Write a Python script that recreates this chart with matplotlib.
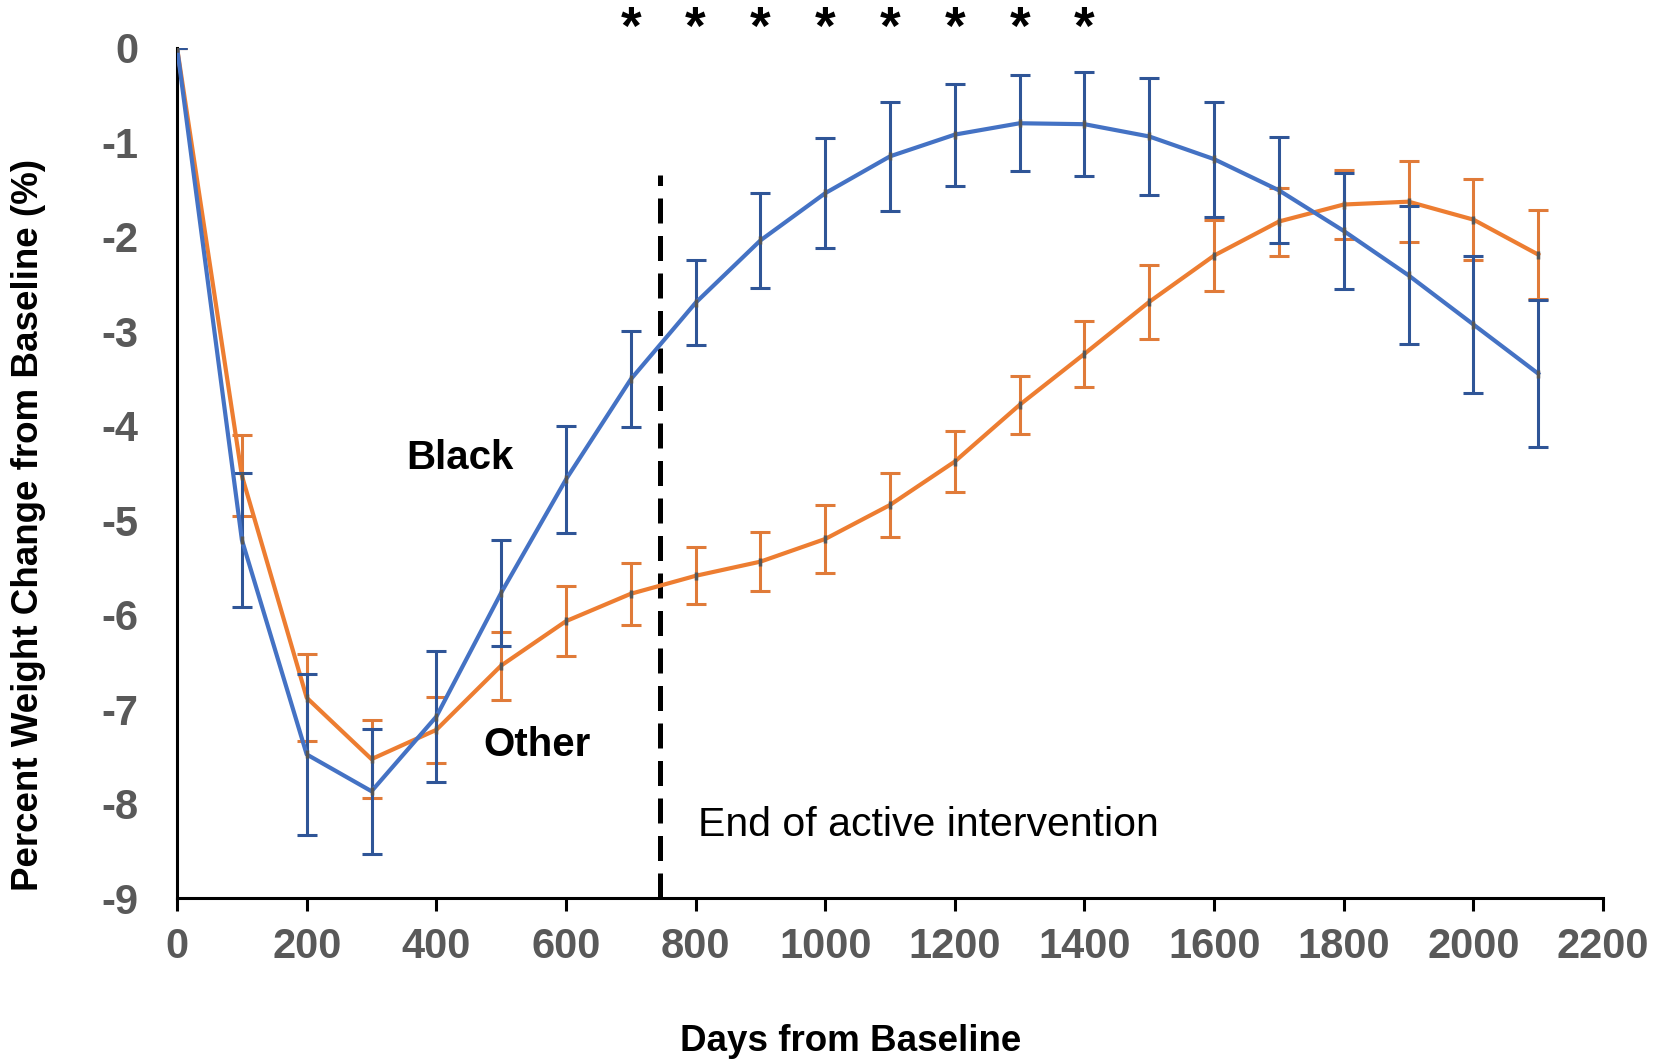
import matplotlib
matplotlib.use("Agg")
import matplotlib.pyplot as plt
import numpy as np

plt.rcParams['font.family'] = ['Liberation Sans', 'DejaVu Sans']
plt.rcParams['lines.scale_dashes'] = False
plt.rcParams['axes.unicode_minus'] = False

days = [0, 100, 200, 300, 400, 500, 600, 700, 800, 900, 1000, 1100, 1200, 1300,
        1400, 1500, 1600, 1700, 1800, 1900, 2000, 2100]

black_mean = [0, -5.21, -7.48, -7.87, -7.08, -5.77, -4.57, -3.51, -2.70, -2.04, -1.54,
              -1.15, -0.92, -0.80, -0.81, -0.94, -1.18, -1.51, -1.94, -2.41, -2.93, -3.45]
black_err = [0, 0.71, 0.85, 0.66, 0.69, 0.56, 0.57, 0.51, 0.45, 0.50, 0.58,
             0.58, 0.54, 0.51, 0.55, 0.62, 0.61, 0.56, 0.61, 0.73, 0.73, 0.78]

other_mean = [0, -4.53, -6.88, -7.53, -7.22, -6.54, -6.07, -5.78, -5.59, -5.44, -5.20,
              -4.84, -4.38, -3.78, -3.24, -2.69, -2.20, -1.84, -1.66, -1.63, -1.82, -2.19]
other_err = [0, 0.43, 0.46, 0.41, 0.35, 0.36, 0.37, 0.33, 0.30, 0.31, 0.36,
             0.34, 0.32, 0.31, 0.35, 0.39, 0.38, 0.36, 0.37, 0.43, 0.43, 0.47]

star_days = [700, 800, 900, 1000, 1100, 1200, 1300, 1400]
end_intervention_day = 745

xticks = list(range(0, 2201, 200))
yticks = list(range(-9, 1))

fig = plt.figure(figsize=(16.61, 10.64), dpi=100)
ax = fig.add_axes([0.1066, 0.156, 0.9651 - 0.1066, 0.9552 - 0.156])

blue = '#4472C4'
blue_err = '#2F5597'
orange = '#ED7D31'
orange_err = '#E07B39'

ax.errorbar(days, other_mean, yerr=other_err, color=orange, lw=3.0, ecolor=orange_err,
            elinewidth=2.2, capsize=7, capthick=2.2, zorder=3)
ax.errorbar(days, black_mean, yerr=black_err, color=blue, lw=3.0, ecolor=blue_err,
            elinewidth=2.2, capsize=7, capthick=2.2, zorder=4)
ax.plot(days, black_mean, ls='none', marker='|', ms=6, mew=2.5, color='#555555', zorder=5)
ax.plot(days, other_mean, ls='none', marker='|', ms=6, mew=2.5, color='#555555', zorder=5)

ax.plot([end_intervention_day, end_intervention_day], [-9, -1.35], color='black', lw=3.6,
        dashes=(18, 9), zorder=2)

for d in star_days:
    ax.text(d, 0.19, '*', ha='center', va='center', fontsize=38, fontweight='bold',
            clip_on=False)

ax.text(353, -4.34, 'Black', ha='left', va='center', fontsize=29, fontweight='bold')
ax.text(472, -7.38, 'Other', ha='left', va='center', fontsize=29, fontweight='bold')
ax.text(804, -8.23, 'End of active intervention', ha='left', va='center', fontsize=29.5)

ax.set_xlim(0, 2200)
ax.set_ylim(-9, 0)
ax.set_xticks(xticks)
ax.set_yticks(yticks)
for s in ['top', 'right']:
    ax.spines[s].set_visible(False)
for s in ['left', 'bottom']:
    ax.spines[s].set_linewidth(2.2)
    ax.spines[s].set_color('black')

ax.tick_params(axis='x', length=9, width=2.2, pad=12, labelsize=30, labelcolor='#595959')
ax.tick_params(axis='y', length=0, pad=28, labelsize=30, labelcolor='#595959')
for lab in ax.get_xticklabels() + ax.get_yticklabels():
    lab.set_fontweight('bold')

fig.text(0.512, 0.0216, 'Days from Baseline', ha='center', va='center', fontsize=26.5,
         fontweight='bold')
fig.text(0.0172, 0.507, 'Percent Weight Change from Baseline (%)', ha='center', va='center',
         rotation=90, fontsize=26.5, fontweight='bold')

fig.savefig('out.png', dpi=100)
